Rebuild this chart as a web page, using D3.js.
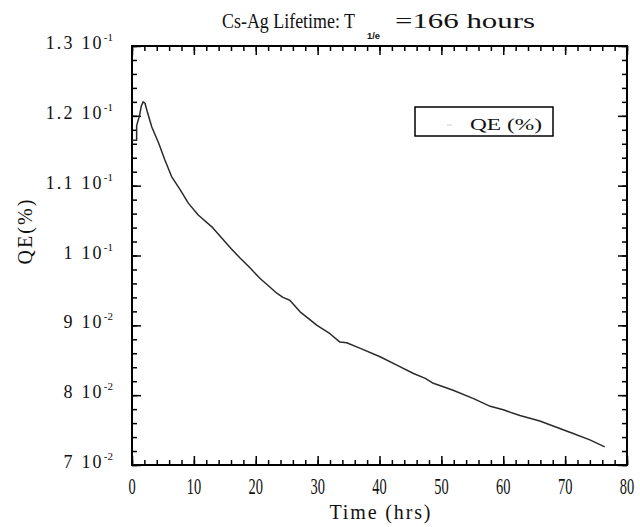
<!DOCTYPE html>
<meta charset="utf-8">
<style>
  body { margin: 0; background: #fff; }
  text { font-family: "Liberation Serif", "Times New Roman", serif; fill: #111; }
</style>
<script src="https://d3js.org/d3.v7.min.js"></script>
<div id="qe_chart"></div>
<script>

// data (time in hours, QE in %)
var timeHrs = [0, 0.75, 0.75, 1.2, 1.5, 1.8, 2.1, 2.4, 3.2, 4.3, 5.3, 6.4, 7.8, 9.1, 10.7, 12.9,
  14.5, 16.0, 17.5, 19.1, 20.7, 22.0, 23.4, 24.4, 25.5, 27.2, 28.5, 29.9, 32.0, 33.6, 34.7,
  36.9, 40.1, 42.8, 45.5, 47.4, 48.7, 51.9, 55.2, 57.9, 60.0, 62.7, 65.9, 68.6, 71.3, 74.0, 76.4];
var qePct = [0.1165, 0.1165, 0.1186, 0.1200, 0.1214, 0.1220, 0.1218, 0.1208, 0.1184, 0.1161,
  0.1137, 0.1113, 0.1094, 0.1075, 0.1058, 0.1041, 0.1025, 0.1010, 0.0996, 0.0982, 0.0967,
  0.0957, 0.0946, 0.0940, 0.0936, 0.0919, 0.0910, 0.0900, 0.0888, 0.0876, 0.0875, 0.0867,
  0.0855, 0.0843, 0.0831, 0.0824, 0.0817, 0.0807, 0.0795, 0.0784, 0.0779, 0.0771, 0.0763,
  0.0754, 0.0745, 0.0736, 0.0726];

// ticks and labels
var xMajor = [0, 10, 20, 30, 40, 50, 60, 70, 80];
var xMinor = d3.range(0, 81, 2);
var yMajor = [0.07, 0.08, 0.09, 0.10, 0.11, 0.12, 0.13];
var yMinor = d3.range(0.070, 0.1301, 0.002);
var yMant = ["7", "8", "9", "1", "1.1", "1.2", "1.3"];
var yExp = ["-2", "-2", "-2", "-1", "-1", "-1", "-1"];

// layout
var margin = {top: 46, right: 13, bottom: 62, left: 132},
    width = 640 - margin.left - margin.right,
    height = 527 - margin.top - margin.bottom;

var svg = d3.select("#qe_chart")
  .append("svg")
    .attr("width", 640)
    .attr("height", 527);

var g = svg.append("g")
    .attr("transform", "translate(" + margin.left + "," + margin.top + ")");

var x = d3.scaleLinear().domain([0, 80]).range([0, width]);
var y = d3.scaleLinear().domain([0.07, 0.13]).range([height, 0]);

// inward ticks on all four sides
function ticks(axis, vals, size, tr) {
  var a = g.append("g")
    .attr("transform", tr)
    .call(axis.tickValues(vals).tickSize(-size).tickFormat(""));
  a.select(".domain").remove();
  a.selectAll("line").attr("stroke", "#000").attr("stroke-width", 1.5);
}
ticks(d3.axisBottom(x), xMinor, 5, "translate(0," + height + ")");
ticks(d3.axisBottom(x), xMajor, 9, "translate(0," + height + ")");
ticks(d3.axisTop(x), xMinor, 5, "translate(0,0)");
ticks(d3.axisTop(x), xMajor, 9, "translate(0,0)");
ticks(d3.axisLeft(y), yMinor, 5, "translate(0,0)");
ticks(d3.axisLeft(y), yMajor, 9, "translate(0,0)");
ticks(d3.axisRight(y), yMinor, 5, "translate(" + width + ",0)");
ticks(d3.axisRight(y), yMajor, 9, "translate(" + width + ",0)");

// frame
g.append("rect")
  .attr("width", width)
  .attr("height", height)
  .attr("fill", "none")
  .attr("stroke", "#000")
  .attr("stroke-width", 2);

// x tick labels (tall narrow digits)
g.selectAll(".xlab")
  .data(xMajor)
  .enter()
  .append("g")
    .attr("transform", function(d) { return "translate(" + x(d) + "," + (height + 29) + ")"; })
  .append("text")
    .attr("transform", "scale(0.6,1)")
    .attr("text-anchor", "middle")
    .style("font-size", "24px")
    .text(function(d) { return d; });

// y tick labels: mantissa + power of ten
var yl = g.selectAll(".ylab")
  .data(yMajor)
  .enter()
  .append("text")
    .attr("x", -19)
    .attr("y", function(d) { return y(d) + 3; })
    .attr("text-anchor", "end");
yl.append("tspan")
    .style("font-size", "18px")
    .style("letter-spacing", "2.2px")
    .text(function(d, i) { return yMant[i] + " 10"; });
yl.append("tspan")
    .attr("dy", -8)
    .style("font-size", "11px")
    .text(function(d, i) { return yExp[i]; });

// curve
var pts = timeHrs.map(function(t, i) { return [t, qePct[i]]; });
g.append("path")
  .datum(pts)
  .attr("fill", "none")
  .attr("stroke", "#2a2a2a")
  .attr("stroke-width", 1.5)
  .attr("stroke-linejoin", "round")
  .attr("d", d3.line()
    .x(function(d) { return x(d[0]); })
    .y(function(d) { return y(d[1]); }));

// legend
svg.append("rect")
  .attr("x", 415).attr("y", 107)
  .attr("width", 138).attr("height", 29)
  .attr("fill", "#fff")
  .attr("stroke", "#000")
  .attr("stroke-width", 1.5);
svg.append("line")
  .attr("x1", 447).attr("x2", 452)
  .attr("y1", 125).attr("y2", 125)
  .attr("stroke", "#ccc");
svg.append("text")
  .attr("x", 470).attr("y", 130)
  .attr("textLength", 72)
  .attr("lengthAdjust", "spacingAndGlyphs")
  .style("font-size", "17px")
  .text("QE (%)");

// title
svg.append("text")
  .attr("x", 222).attr("y", 28)
  .attr("textLength", 133)
  .attr("lengthAdjust", "spacingAndGlyphs")
  .style("font-size", "20px")
  .text("Cs-Ag Lifetime: T");
svg.append("text")
  .attr("x", 367).attr("y", 39)
  .attr("textLength", 13)
  .attr("lengthAdjust", "spacingAndGlyphs")
  .style("font-family", "'Liberation Sans', sans-serif")
  .style("font-weight", "bold")
  .style("font-size", "9px")
  .text("1/e");
svg.append("text")
  .attr("x", 395).attr("y", 28)
  .attr("textLength", 140)
  .attr("lengthAdjust", "spacingAndGlyphs")
  .style("font-size", "20px")
  .text("=166 hours");

// axis titles
svg.append("text")
  .attr("x", 380).attr("y", 519)
  .attr("text-anchor", "middle")
  .attr("textLength", 101)
  .attr("lengthAdjust", "spacing")
  .style("font-size", "20px")
  .text("Time (hrs)");
svg.append("text")
  .attr("transform", "translate(32,232)rotate(-90)")
  .attr("text-anchor", "middle")
  .attr("textLength", 65)
  .attr("lengthAdjust", "spacing")
  .style("font-size", "20px")
  .text("QE(%)");

</script>
